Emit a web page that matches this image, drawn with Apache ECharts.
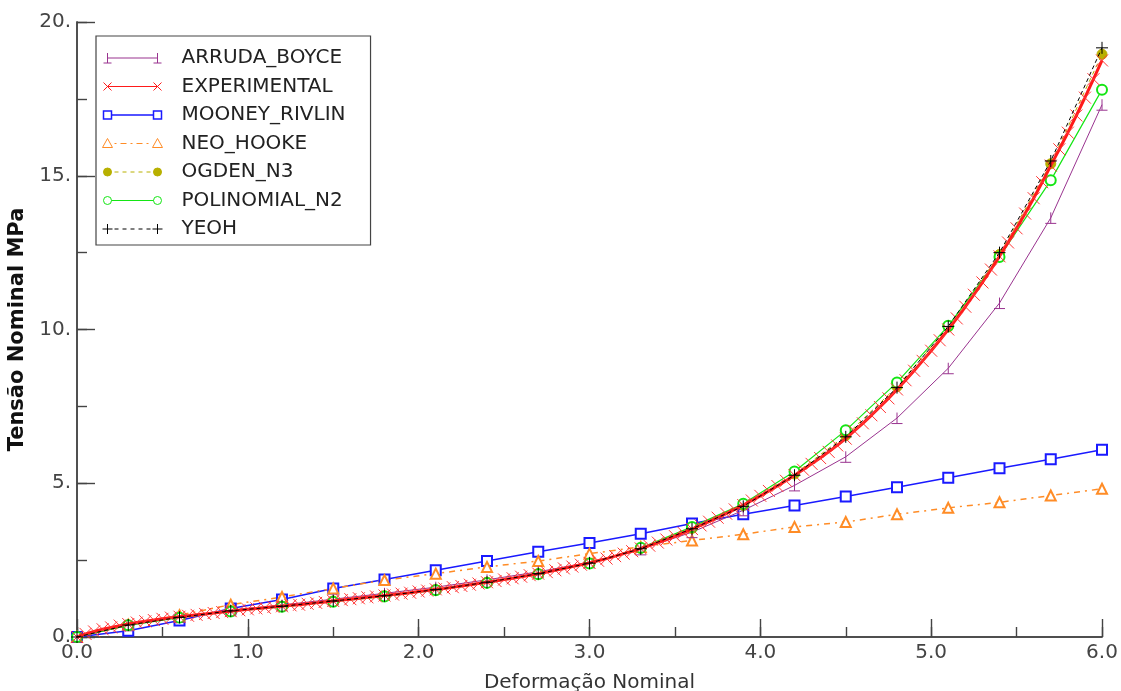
<!DOCTYPE html>
<html>
<head>
<meta charset="utf-8">
<script src="https://cdn.jsdelivr.net/npm/echarts@6/dist/echarts.min.js"></script>
<style>
html,body{margin:0;padding:0;background:#fff;}
#chart{width:1121px;height:691px;}
</style>
</head>
<body>
<div id="chart"></div>
<script>
// ---- data ----
const modelStrain = [0.0,0.3,0.6,0.9,1.2,1.5,1.8,2.1,2.4,2.7,3.0,3.3,3.6,3.9,4.2,4.5,4.8,5.1,5.4,5.7,6.0];
const arrudaBoyce = [0,0.38,0.65,0.87,1.04,1.23,1.42,1.62,1.86,2.12,2.43,2.85,3.41,4.12,4.93,5.86,7.12,8.74,10.86,13.63,17.31];
const mooneyRivlin = [0,0.20,0.54,0.93,1.22,1.58,1.87,2.17,2.47,2.77,3.06,3.36,3.69,3.99,4.28,4.57,4.87,5.18,5.49,5.78,6.09];
const neoHooke = [0,0.40,0.71,1.05,1.30,1.58,1.85,2.06,2.28,2.47,2.71,2.93,3.14,3.34,3.58,3.74,3.99,4.20,4.38,4.60,4.82];
const ogdenN3 = [0,0.39,0.64,0.85,1.00,1.17,1.34,1.54,1.78,2.06,2.40,2.88,3.53,4.28,5.30,6.55,8.14,10.08,12.44,15.39,18.95];
const polinomialN2 = [0,0.38,0.63,0.83,0.98,1.15,1.32,1.52,1.76,2.04,2.39,2.90,3.58,4.33,5.38,6.72,8.28,10.12,12.36,14.85,17.80];
const yeoh = [0,0.39,0.64,0.85,1.00,1.17,1.34,1.54,1.78,2.06,2.40,2.87,3.52,4.25,5.26,6.51,8.11,10.10,12.50,15.48,19.16];

const expStrain = [0.00,0.05,0.10,0.15,0.20,0.25,0.30,0.35,0.40,0.45,0.50,0.55,0.60,0.65,0.70,0.75,0.80,0.85,0.90,0.95,
1.00,1.05,1.10,1.15,1.20,1.25,1.30,1.35,1.40,1.45,1.50,1.55,1.60,1.65,1.70,1.75,1.80,1.85,1.90,1.95,
2.00,2.05,2.10,2.15,2.20,2.25,2.30,2.35,2.40,2.45,2.50,2.55,2.60,2.65,2.70,2.75,2.80,2.85,2.90,2.95,
3.00,3.05,3.10,3.15,3.20,3.25,3.30,3.35,3.40,3.45,3.50,3.55,3.60,3.65,3.70,3.75,3.80,3.85,3.90,3.95,
4.00,4.05,4.10,4.15,4.20,4.25,4.30,4.35,4.40,4.45,4.50,4.55,4.60,4.65,4.70,4.75,4.80,4.85,4.90,4.95,
5.00,5.05,5.10,5.15,5.20,5.25,5.30,5.35,5.40,5.45,5.50,5.55,5.60,5.65,5.70,5.75,5.80,5.85,5.90,5.95,6.00];
const experimental = [0,0.10,0.18,0.25,0.31,0.37,0.42,0.47,0.51,0.55,0.59,0.63,0.66,0.69,0.72,0.75,0.78,0.81,0.84,0.87,
0.90,0.93,0.95,0.98,1.00,1.03,1.05,1.08,1.11,1.14,1.17,1.20,1.23,1.26,1.29,1.32,1.35,1.38,1.41,1.44,
1.48,1.51,1.55,1.58,1.62,1.66,1.70,1.74,1.78,1.82,1.87,1.91,1.96,2.01,2.06,2.11,2.17,2.23,2.29,2.35,
2.41,2.48,2.55,2.63,2.71,2.79,2.88,2.97,3.07,3.17,3.28,3.39,3.51,3.63,3.75,3.88,4.01,4.15,4.29,4.44,
4.59,4.75,4.91,5.08,5.26,5.44,5.63,5.82,6.02,6.23,6.45,6.70,6.95,7.21,7.48,7.76,8.05,8.35,8.66,8.98,
9.31,9.65,10.00,10.36,10.74,11.13,11.53,11.95,12.38,12.83,13.29,13.77,14.27,14.79,15.33,15.86,16.40,16.96,17.54,18.14,18.75];

const legendNames = ['ARRUDA_BOYCE','EXPERIMENTAL','MOONEY_RIVLIN','NEO_HOOKE','OGDEN_N3','POLINOMIAL_N2','YEOH'];

// ---- build ----
function pairs(xs, ys){ return xs.map((x,i)=>[x, ys[i]]); }
const FONT = 'DejaVu Sans';
const SYM_PLUS = 'path://M0,5L10,5M5,0L5,10';
const SYM_CROSS = 'path://M0,0L10,10M10,0L0,10';
const SYM_TEE = 'path://M5,0L5,10M0,10L10,10';

const C = {
  arruda:'#99338f', exp:'#ff1a1a', mooney:'#1a1aff', neo:'#ff8c26',
  ogden:'#b8b000', poli:'#14e614', yeoh:'#000000'
};

// legend sample icons: line with a marker at each end (box 60 x 14)
const BOX = 'M0,0M60,14';
function tee(cx){ return `M${cx},2L${cx},12M${cx-4},12L${cx+4},12`; }
function cross(cx){ return `M${cx-4},3L${cx+4},11M${cx+4},3L${cx-4},11`; }
function sq(cx){ return `M${cx-4},3L${cx+4},3L${cx+4},11L${cx-4},11Z`; }
function tri(cx){ return `M${cx},2L${cx+5},11L${cx-5},11Z`; }
function circ(cx){ return `M${cx-4},7A4,4 0 1,0 ${cx+4},7A4,4 0 1,0 ${cx-4},7Z`; }
function plus(cx){ return `M${cx-5},7L${cx+5},7M${cx},2L${cx},12`; }
function dashes(x0, x1, pattern){
  let s = '', x = x0, k = 0;
  while (x < x1) {
    const on = pattern[k % pattern.length], off = pattern[(k+1) % pattern.length];
    const e = Math.min(x + on, x1);
    s += `M${x},7L${e},7`;
    x = e + off; k += 2;
  }
  return s;
}
const legendIcons = {
  ARRUDA_BOYCE: 'path://' + BOX + 'M5,7L55,7' + tee(5) + tee(55),
  EXPERIMENTAL: 'path://' + BOX + 'M5,7L55,7' + cross(5) + cross(55),
  MOONEY_RIVLIN: 'path://' + BOX + 'M9,7L51,7' + sq(5) + sq(55),
  NEO_HOOKE: 'path://' + BOX + dashes(12, 49, [2,4,6,4]) + tri(5) + tri(55),
  OGDEN_N3: 'path://' + BOX + dashes(12, 49, [4,4]) + circ(5) + circ(55),
  POLINOMIAL_N2: 'path://' + BOX + 'M9,7L51,7' + circ(5) + circ(55),
  YEOH: 'path://' + BOX + dashes(12, 49, [4,4]) + plus(5) + plus(55)
};
const legendColors = {
  ARRUDA_BOYCE:C.arruda, EXPERIMENTAL:C.exp, MOONEY_RIVLIN:C.mooney, NEO_HOOKE:C.neo,
  OGDEN_N3:C.ogden, POLINOMIAL_N2:C.poli, YEOH:C.yeoh
};
const legendData = legendNames.map(n => ({
  name:n, icon:legendIcons[n],
  itemStyle:{color: n === 'OGDEN_N3' ? C.ogden : 'none', borderColor:legendColors[n], borderWidth: n === 'MOONEY_RIVLIN' ? 1.5 : 1}
}));

function mk(name, data, color, opts){
  return Object.assign({
    name, type:'line', data, xAxisIndex:0, yAxisIndex:0,
    smooth:false, showSymbol:true, animation:false,
    lineStyle:{color, width:1},
    itemStyle:{color, borderColor:color, borderWidth:1},
    emphasis:{disabled:true}
  }, opts);
}

const series = [
  mk('MOONEY_RIVLIN', pairs(modelStrain, mooneyRivlin), C.mooney, {symbol:'emptyRect', symbolSize:10, lineStyle:{color:C.mooney, width:1.5}, z:2}),
  mk('NEO_HOOKE', pairs(modelStrain, neoHooke), C.neo, {symbol:'emptyTriangle', symbolSize:10, lineStyle:{color:C.neo, width:1.5, type:[6,5,2,5]}, z:2}),
  mk('ARRUDA_BOYCE', pairs(modelStrain, arrudaBoyce), C.arruda, {symbol:SYM_TEE, symbolSize:11, z:3}),
  mk('OGDEN_N3', pairs(modelStrain, ogdenN3), C.ogden, {symbol:'circle', symbolSize:10, lineStyle:{color:C.ogden, width:1, type:[4,4]}, z:3}),
  mk('POLINOMIAL_N2', pairs(modelStrain, polinomialN2), C.poli, {symbol:'emptyCircle', symbolSize:10, lineStyle:{color:C.poli, width:1.2}, z:4}),
  mk('EXPERIMENTAL', pairs(expStrain, experimental), C.exp, {symbol:SYM_CROSS, symbolSize:12, lineStyle:{color:C.exp, width:3}, itemStyle:{color:C.exp, borderColor:'#ff3535', borderWidth:1}, z:5}),
  mk('YEOH', pairs(modelStrain, yeoh), C.yeoh, {symbol:SYM_PLUS, symbolSize:12, lineStyle:{color:C.yeoh, width:1, type:[4,3]}, z:6})
];

// Axes: a frame/label axis on each side, plus tick-only axes shifted inward by their
// tick length so the (outward) ticks end on the frame line, i.e. they point into the plot.
const frameLine = {show:true, lineStyle:{color:'#444', width:1.5}};
function frameAxis(pos, min, max, step, fmt, extra){
  return Object.assign({
    type:'value', min, max, interval:step, position:pos,
    axisLine:frameLine, axisTick:{show:false}, minorTick:{show:false}, splitLine:{show:false},
    axisLabel: fmt ? {show:true, fontFamily:FONT, fontSize:20, color:'#444', margin:6, formatter:fmt} : {show:false}
  }, extra || {});
}
function tickAxis(pos, min, max, step, len){
  return {
    type:'value', min, max, interval:step, position:pos, offset:-len,
    axisLine:{show:false}, minorTick:{show:false}, splitLine:{show:false}, axisLabel:{show:false},
    axisTick:{show:true, inside:false, length:len, lineStyle:{color:'#444', width:1.4}}
  };
}
const fmtX = v => v.toFixed(1);
const fmtY = v => v.toFixed(0) + '.';

const xAxes = [
  frameAxis('bottom',0,6,1,fmtX,{
    name:'Deformação Nominal', nameLocation:'middle', nameGap:36,
    nameTextStyle:{fontFamily:FONT, fontSize:20, color:'#333'}
  }),
  tickAxis('bottom',0,6,0.5,5),
  tickAxis('bottom',0,6,1,9),
  frameAxis('top',0,6,1,null),
  tickAxis('top',0,6,0.5,5),
  tickAxis('top',0,6,1,9)
];
const yAxes = [
  frameAxis('left',0,20,5,fmtY,{
    name:'Tensão Nominal MPa', nameLocation:'middle', nameGap:37, nameRotate:90,
    nameTextStyle:{fontFamily:FONT, fontSize:21, fontWeight:'bold', color:'#111'}
  }),
  tickAxis('left',0,20,2.5,5),
  tickAxis('left',0,20,5,9),
  frameAxis('right',0,20,5,null),
  tickAxis('right',0,20,2.5,5),
  tickAxis('right',0,20,5,9)
];

const chart = echarts.init(document.getElementById('chart'), null, {renderer:'canvas'});
chart.setOption({
  backgroundColor:'#ffffff',
  animation:false,
  grid:{left:77, top:22, right:19, bottom:54, containLabel:false, outerBoundsMode:'none'},
  legend:{
    data:legendData, orient:'vertical', left:96, top:36,
    backgroundColor:'#ffffff', borderColor:'#444', borderWidth:1.2,
    padding:[12,25,6,4], itemWidth:60, itemHeight:14, itemGap:8.5,
    textStyle:{fontFamily:FONT, fontSize:20, color:'#222', padding:[0,0,0,14]},
    selectedMode:false
  },
  xAxis:xAxes,
  yAxis:yAxes,
  series
});
</script>
</body>
</html>
